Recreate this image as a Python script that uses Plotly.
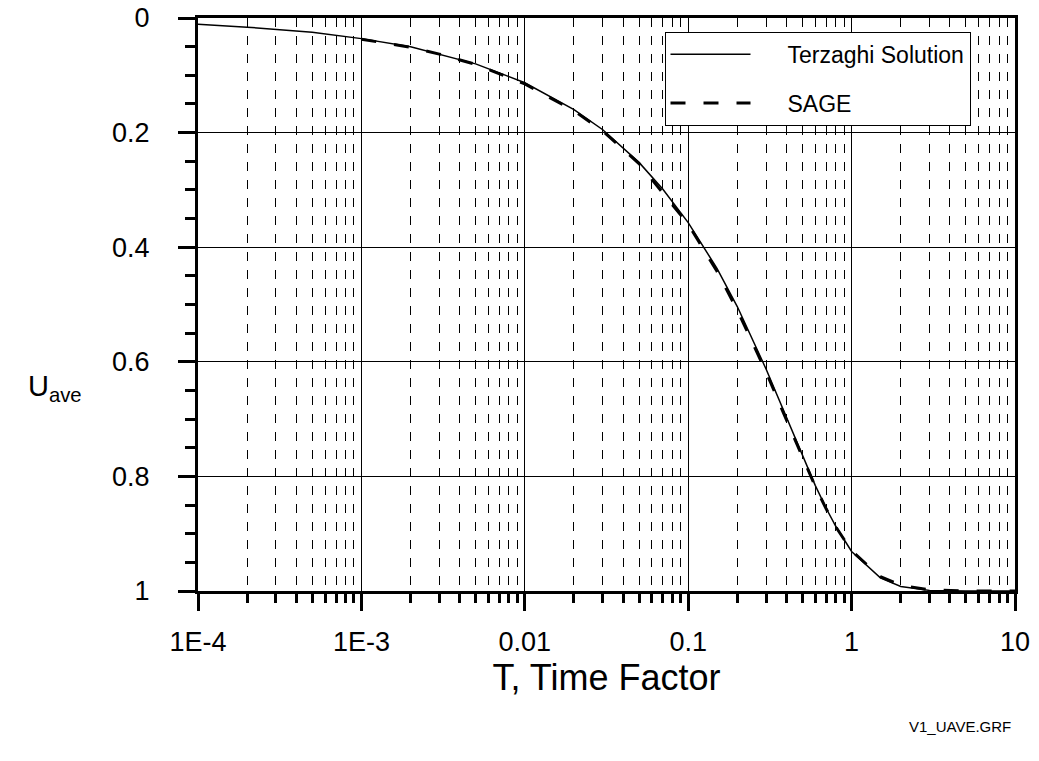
import plotly.graph_objects as go

# Terzaghi solution
t_terz = [1e-4, 2e-4, 5e-4, 1e-3, 2e-3, 5e-3, 0.01, 0.02, 0.03, 0.05, 0.07, 0.1,
          0.15, 0.2, 0.3, 0.4, 0.5, 0.6, 0.7, 0.8, 1.0, 1.5, 2.0, 3.0, 5.0, 10.0]
u_terz = [0.011, 0.016, 0.025, 0.036, 0.050, 0.080, 0.113, 0.160, 0.195, 0.252, 0.299, 0.357,
          0.437, 0.504, 0.613, 0.698, 0.764, 0.816, 0.856, 0.887, 0.931, 0.977, 0.992, 0.999, 1.0, 1.0]

# SAGE results
t_sage = [1e-3, 2e-3, 3e-3, 5e-3, 0.01, 0.02, 0.03, 0.05, 0.1, 0.15, 0.2, 0.3,
          0.4, 0.5, 0.6, 0.7, 0.8, 1.0, 1.5, 2.0, 3.0, 5.0, 10.0]
u_sage = [0.037, 0.051, 0.063, 0.081, 0.115, 0.162, 0.197, 0.254, 0.360, 0.442, 0.510, 0.618,
          0.702, 0.767, 0.818, 0.857, 0.888, 0.930, 0.975, 0.990, 0.998, 1.0, 1.0]

x_tickvals = [1e-4, 1e-3, 0.01, 0.1, 1, 10]
x_ticktext = ["1E-4", "1E-3", "0.01", "0.1", "1", "10"]
y_tickvals = [0, 0.2, 0.4, 0.6, 0.8, 1.0]
y_ticktext = ["0", "0.2", "0.4", "0.6", "0.8", "1"]

FONT = "Liberation Sans, Arial, sans-serif"
NB = "\u00a0"

fig = go.Figure()
fig.add_trace(go.Scatter(x=t_terz, y=u_terz, mode="lines", name=NB * 5 + "Terzaghi Solution",
                         legendgroup="a", line=dict(color="black", width=1.5)))
fig.add_trace(go.Scatter(x=t_sage, y=u_sage, mode="lines", name=NB * 5 + "SAGE",
                         legendgroup="b", line=dict(color="black", width=3, dash="15px,18px")))

fig.update_xaxes(type="log", range=[-4, 1], tickmode="array", tickvals=x_tickvals,
                 ticktext=x_ticktext, ticks="outside", ticklen=17, tickwidth=3,
                 tickcolor="black", showline=True, linewidth=3, linecolor="black",
                 mirror=True, showgrid=True, gridcolor="black", gridwidth=1,
                 tickfont=dict(family=FONT, size=27, color="black"),
                 ticklabelstandoff=8, automargin=False, ticklabeloverflow="allow",
                 title=dict(text="T, Time Factor", font=dict(family=FONT, size=36, color="black"),
                            standoff=8),
                 minor=dict(dtick="D1", ticks="outside", ticklen=9, tickwidth=3,
                            tickcolor="black", showgrid=True, gridcolor="black",
                            gridwidth=1, griddash="dash"),
                 zeroline=False)
fig.update_yaxes(range=[1, 0], tickmode="array", tickvals=y_tickvals, ticktext=y_ticktext,
                 ticks="outside", ticklen=17, tickwidth=3, tickcolor="black",
                 showline=True, linewidth=3, linecolor="black", mirror=True,
                 showgrid=True, gridcolor="black", gridwidth=1,
                 tickfont=dict(family=FONT, size=27, color="black"),
                 ticklabelstandoff=23, automargin=False, ticklabeloverflow="allow",
                 minor=dict(dtick=0.05, ticks="outside", ticklen=10, tickwidth=3,
                            tickcolor="black", showgrid=False),
                 zeroline=False)

fig.add_annotation(text="U<sub>ave</sub>", xref="paper", yref="paper", x=-0.211, y=0.355,
                   xanchor="left", yanchor="middle", showarrow=False,
                   font=dict(family=FONT, size=29, color="black"))
fig.add_annotation(text="V1_UAVE.GRF", xref="paper", yref="paper", x=0.997, y=-0.237,
                   xanchor="right", yanchor="middle", showarrow=False,
                   font=dict(family=FONT, size=15, color="black"))

fig.update_layout(width=1039, height=761, margin=dict(l=198, r=24, t=18, b=170),
                  plot_bgcolor="white", paper_bgcolor="white",
                  font=dict(family=FONT, color="black"),
                  legend=dict(x=0.571, y=0.976, xanchor="left", yanchor="top",
                              bordercolor="black", borderwidth=1, bgcolor="white",
                              font=dict(family=FONT, size=23, color="black"),
                              itemwidth=80, tracegroupgap=16),
                  showlegend=True)

fig.write_html("out.html", config={"displayModeBar": False},
               post_script="document.body.style.margin='0';")
